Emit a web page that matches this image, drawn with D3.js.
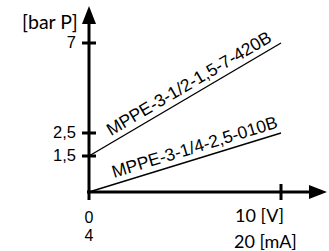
<!DOCTYPE html>
<html>
<head>
<meta charset="utf-8">
<script src="https://cdn.jsdelivr.net/npm/d3@7"></script>
<style>
	body { margin: 0; background: #fff; }
	svg { display: block; }
</style>
</head>
<body>
<svg id="svg"></svg>
<script>
// valeurs (pression en bar selon le signal)
var xTicks = [10];
var xTickLabels = ["10 [V]"];
var xTickLabels2 = ["20 [mA]"];
var yTicks = [1.5, 2.5, 7];
var yTickLabels = ["1,5", "2,5", "7"];

var seriesNames = ["MPPE-3-1/2-1,5-7-420B", "MPPE-3-1/4-2,5-010B"];
var seriesUpper = [[0, 1.5], [10, 7]];
var seriesLower = [[0, 0], [10, 2.5]];

Chart =
{
	width: 329,
	height: 251,

	// echelles (axe y non lineaire sur le schema d'origine)
	x: d3.scaleLinear().domain([0, 10]).range([89, 281]),
	y: d3.scaleLinear().domain([0, 1.5, 2.5, 7]).range([192, 156, 133, 43]),

	draw()
	{
		var that = this;
		var x = that.x, y = that.y;

		//axe y + fleche
		that.draw_line(89, y(0) + 8, 89, 20, 3)
		canevas.append("path")
			.attr("d", "M82,24 L96,24 L89,6 Z")
			.attr("fill", "black")

		//axe x + fleche
		that.draw_line(87, y(0), 312, y(0), 3)
		canevas.append("path")
			.attr("d", "M309,185 L327,192 L309,199 Z")
			.attr("fill", "black")

		//graduations y
		yTicks.forEach(function(d, i){
			that.draw_line(82, y(d), 96, y(d), 3)
			that.draw_text(yTickLabels[i], 76, y(d) + 5, "end", "16.5px", "Liberation Sans, Arial, sans-serif")
		})

		//graduations x
		xTicks.forEach(function(d, i){
			that.draw_line(x(d), y(0) - 8, x(d), y(0) + 8, 3)
			that.draw_text(xTickLabels[i], x(d) - 46, 222, "start", "18px", "Lato, Open Sans, sans-serif")
			that.draw_text(xTickLabels2[i], x(d) - 47, 248, "start", "18px", "Lato, Open Sans, sans-serif")
		})

		that.draw_text("0", x(0), 223, "middle", "16px", "Liberation Sans, Arial, sans-serif")
		that.draw_text("4", x(0), 241, "middle", "16px", "Liberation Sans, Arial, sans-serif")
		that.draw_text("[bar P]", 22, 29, "start", "19.5px", "Lato, Open Sans, sans-serif")

		//courbes
		var line = d3.line().x(function(d){return x(d[0])}).y(function(d){return y(d[1])})
		var all = [seriesUpper, seriesLower]
		all.forEach(function(s, i){
			canevas.append("path")
				.attr("d", line(s))
				.attr("fill", "none")
				.attr("stroke", "black")
				.attr("stroke-width", 1.4)

			//texte le long de la courbe
			var x0 = x(s[0][0]), y0 = y(s[0][1]), x1 = x(s[1][0]), y1 = y(s[1][1])
			var ang = Math.atan2(y1 - y0, x1 - x0) * 180 / Math.PI
			var t = i == 0 ? 0.13 : 0.14
			var px = x0 + (x1 - x0) * t, py = y0 + (y1 - y0) * t
			canevas.append("text")
				.text(seriesNames[i])
				.attr("transform", "translate(" + px + "," + py + ") rotate(" + ang + ") translate(0,-6)")
				.attr("font-family", "Liberation Sans, Arial, sans-serif")
				.style("font-size", "17.5px")
		})
	},

	draw_line(x1, y1, x2, y2, w){
		canevas.append("line")
			.attr("x1", x1)
			.attr("y1", y1)
			.attr("x2", x2)
			.attr("y2", y2)
			.attr("style", "stroke:black;stroke-width:" + w)
	},

	draw_text(text, x, y, anchor, size, family){
		canevas.append("text")
			.text(text)
			.attr("x", x)
			.attr("y", y)
			.attr("text-anchor", anchor)
			.attr("font-family", family)
			.attr("fill", "black")
			.style("font-size", size)
	},

	init()
	{
		canevas = d3.select("#svg")
			.attr("width", this.width)
			.attr("height", this.height)
		this.draw();
	}
}

Chart.init();
</script>
</body>
</html>
